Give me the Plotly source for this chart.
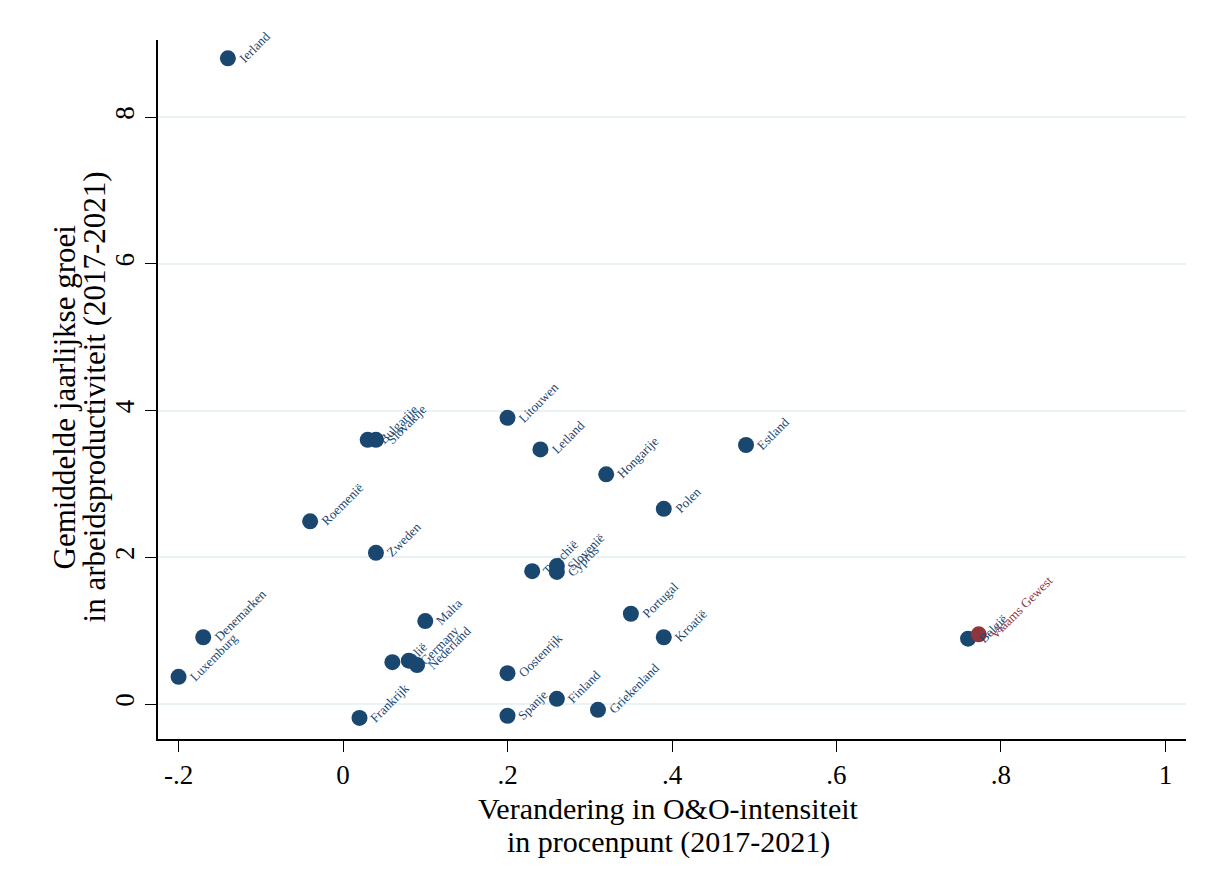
import plotly.graph_objects as go

countries = ["Ierland", "Bulgarije", "Slovakije", "Litouwen", "Letland", "Hongarije",
             "Estland", "Polen", "Roemenië", "Zweden", "Tsjechië", "Slovenië", "Cyprus",
             "Denemarken", "Luxemburg", "Malta", "Italië", "Germany", "Nederland",
             "Frankrijk", "Portugal", "Kroatië", "Oostenrijk", "Spanje", "Finland",
             "Griekenland", "België"]
rd_change = [-0.14, 0.03, 0.04, 0.20, 0.24, 0.32,
             0.49, 0.39, -0.04, 0.04, 0.23, 0.26, 0.26,
             -0.17, -0.20, 0.10, 0.06, 0.08, 0.09,
             0.02, 0.35, 0.39, 0.20, 0.20, 0.26,
             0.31, 0.76]
prod_growth = [8.80, 3.60, 3.60, 3.90, 3.47, 3.13,
               3.53, 2.66, 2.49, 2.06, 1.81, 1.88, 1.80,
               0.91, 0.37, 1.13, 0.57, 0.59, 0.53,
               -0.19, 1.23, 0.91, 0.42, -0.16, 0.07,
               -0.08, 0.89]

region = ["Vlaams Gewest"]
region_rd = [0.773]
region_prod = [0.95]

x_title = ["Verandering in O&amp;O-intensiteit", "in procenpunt (2017-2021)"]
y_title = ["Gemiddelde jaarlijkse groei", "in arbeidsproductiviteit (2017-2021)"]

NAVY = "#1a476f"
RED = "#90353b"
SERIF = "Liberation Serif, Times New Roman, serif"

fig = go.Figure()
fig.add_trace(go.Scatter(x=rd_change, y=prod_growth, mode="markers",
                         marker=dict(size=16, color=NAVY), showlegend=False))
fig.add_trace(go.Scatter(x=region_rd, y=region_prod, mode="markers",
                         marker=dict(size=16, color=RED), showlegend=False))

def add_labels(names, xs, ys, color):
    for n, x, y in zip(names, xs, ys):
        fig.add_annotation(x=x, y=y, xref="x", yref="y", text=n, showarrow=False,
                           textangle=-45, xanchor="left", yanchor="bottom",
                           xshift=5, yshift=-10,
                           font=dict(family=SERIF, size=13, color=color))

add_labels(countries, rd_change, prod_growth, NAVY)
add_labels(region, region_rd, region_prod, RED)

# axis titles (one annotation per line, to control line spacing)
for txt, yp in zip(x_title, [-0.1, -0.147]):
    fig.add_annotation(x=0.497, y=yp, xref="paper", yref="paper", text=txt,
                       showarrow=False, xanchor="center", yanchor="middle",
                       font=dict(family=SERIF, size=30, color="black"))
for txt, xp in zip(y_title, [-0.0905, -0.0613]):
    fig.add_annotation(x=xp, y=0.49, xref="paper", yref="paper", text=txt,
                       showarrow=False, xanchor="center", yanchor="middle",
                       textangle=-90,
                       font=dict(family=SERIF, size=31, color="black"))

fig.update_layout(
    width=1214, height=885,
    margin=dict(l=150, r=36, t=32, b=154),
    plot_bgcolor="white", paper_bgcolor="white",
    font=dict(family=SERIF, size=25, color="black"),
)
fig.update_xaxes(range=[-0.225, 1.025], tickvals=[-0.2, 0, 0.2, 0.4, 0.6, 0.8, 1],
                 ticktext=["-.2", "0", ".2", ".4", ".6", ".8", "1"],
                 tickfont=dict(family=SERIF, size=27),
                 showgrid=False, zeroline=False, showline=True, linecolor="black",
                 linewidth=1.5, ticks="outside", ticklen=11, tickcolor="black")
fig.update_yaxes(range=[-0.477, 9.05], tickvals=[0, 2, 4, 6, 8], tickangle=-90,
                 tickfont=dict(family=SERIF, size=27),
                 showgrid=True, gridcolor="#eaf2f3", gridwidth=1.5, zeroline=False,
                 showline=True, linecolor="black", linewidth=1.5,
                 ticks="outside", ticklen=11, tickcolor="black")

fig.write_html("out.html")
